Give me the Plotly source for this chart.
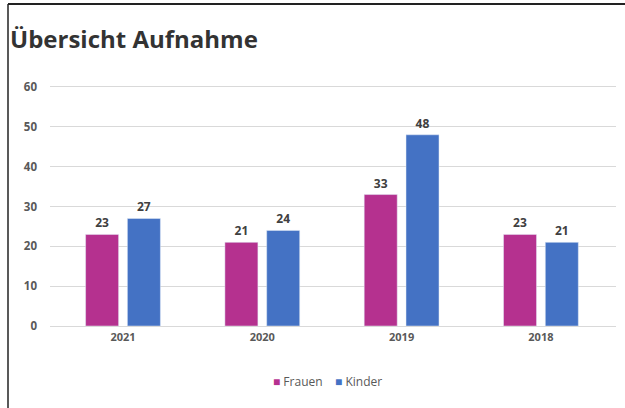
import plotly.graph_objects as go

years = ["2021", "2020", "2019", "2018"]
frauen = [23, 21, 33, 23]
kinder = [27, 24, 48, 21]
y_ticks = [0, 10, 20, 30, 40, 50, 60]
colors = {"Frauen": "#B5318F", "Kinder": "#4472C4"}

W, H = 625, 408
ml, mr, mt, mb = 50, 9, 85, 82
pw, ph = W - ml - mr, H - mt - mb

def px(x):
    return (x - ml) / pw

def py(y):
    return (H - mb - y) / ph

lab_font = dict(family="Open Sans", size=12, color="#404040", weight="bold")

fig = go.Figure()
fig.add_trace(go.Bar(x=years, y=frauen, name="Frauen", marker_color=colors["Frauen"],
                     text=frauen, textposition="outside", cliponaxis=False,
                     textfont=lab_font, showlegend=False))
fig.add_trace(go.Bar(x=years, y=kinder, name="Kinder", marker_color=colors["Kinder"],
                     text=kinder, textposition="outside", cliponaxis=False,
                     textfont=lab_font, showlegend=False))

fig.update_layout(
    width=W, height=H,
    margin=dict(l=ml, r=mr, t=mt, b=mb),
    paper_bgcolor="white", plot_bgcolor="white",
    barmode="group", bargap=0.40, bargroupgap=0.21,
    font=dict(family="Open Sans", color="#595959"),
    xaxis=dict(range=[-0.524, 3.539], showgrid=False, showline=True, linecolor="#d9d9d9",
               linewidth=1, tickfont=dict(size=11, color="#595959", weight="bold"), ticks="",
               ticklabelstandoff=1),
    yaxis=dict(range=[0, 60.5], tickvals=y_ticks, showgrid=True, gridcolor="#d9d9d9",
               zeroline=False, showline=False, ticks="",
               tickfont=dict(size=11.5, color="#595959", weight="bold"),
               ticklabelstandoff=12),
)

legend_text = (f"<span style='color:{colors['Frauen']}'>■</span> Frauen    "
               f"<span style='color:{colors['Kinder']}'>■</span> Kinder")
fig.add_annotation(text=legend_text, xref="paper", yref="paper", x=px(327), y=py(381),
                   xanchor="center", yanchor="middle", showarrow=False,
                   font=dict(size=12, color="#595959", family="Open Sans"))

fig.add_annotation(text="<b>Übersicht Aufnahme</b>", xref="paper", yref="paper",
                   x=px(8), y=py(38), xanchor="left", yanchor="middle", showarrow=False,
                   font=dict(size=24, color="#333333", family="Open Sans"))
fig.add_shape(type="line", xref="paper", yref="paper", x0=px(8), x1=px(W + 2), y0=py(4), y1=py(4),
              line=dict(color="#222222", width=2))
fig.add_shape(type="line", xref="paper", yref="paper", x0=px(8), x1=px(8), y0=py(4), y1=py(H + 2),
              line=dict(color="#222222", width=1.5))

fig.write_html("out.html")
